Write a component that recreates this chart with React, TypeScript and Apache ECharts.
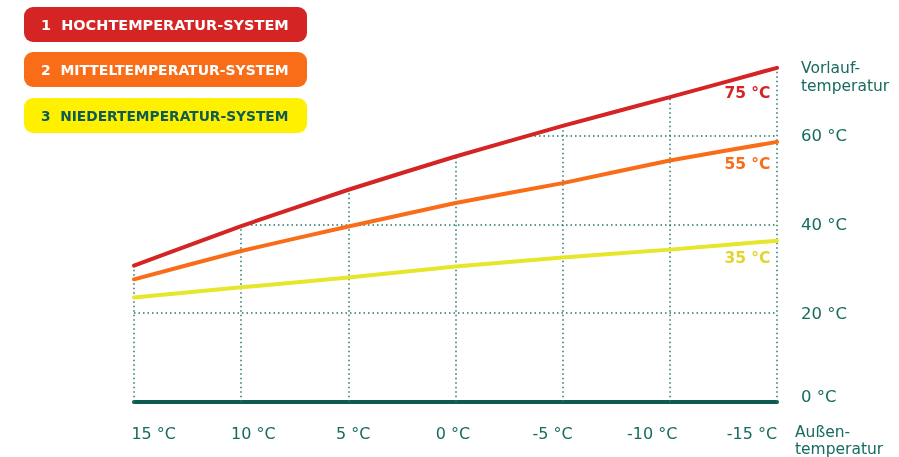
import React, { useEffect, useRef } from "react";
import * as echarts from "echarts";

const categories = ["15 °C", "10 °C", "5 °C", "0 °C", "-5 °C", "-10 °C", "-15 °C"];
const hochValues = [30.7, 39.6, 47.8, 55.3, 62.2, 68.7, 75.3];
const mittelValues = [27.6, 34.0, 39.5, 44.8, 49.3, 54.4, 58.6];
const niederValues = [23.5, 25.8, 28.0, 30.5, 32.5, 34.3, 36.3];
const seriesNames = ["1  HOCHTEMPERATUR-SYSTEM", "2  MITTELTEMPERATUR-SYSTEM", "3  NIEDERTEMPERATUR-SYSTEM"];
const endLabels = ["75 °C", "55 °C", "35 °C"];
const yAxisTitle = "Vorlauf-\ntemperatur";
const xAxisTitle = "Außen-\ntemperatur";

const RED = "#d52424";
const ORANGE = "#f96c18";
const YELLOW_LINE = "#e6e62c";
const YELLOW_BOX = "#fff000";
const YELLOW_TEXT = "#e2d42a";
const TEAL = "#176b5f";
const TEAL_DARK = "#0e5c50";
const FONT = "'DejaVu Sans', sans-serif";

function measure(text: string, font: string): number {
  const c = document.createElement("canvas");
  const ctx = c.getContext("2d");
  if (!ctx) return 1;
  ctx.font = font;
  return ctx.measureText(text).width;
}

export default function App() {
  const ref = useRef<HTMLDivElement>(null);
  useEffect(() => {
    if (!ref.current) return;
    const chart = echarts.init(ref.current, undefined, { renderer: "svg" });

    const lineColors = [RED, ORANGE, YELLOW_LINE];
    const labelColors = [RED, ORANGE, YELLOW_TEXT];
    const labelOffsets = [[-6, 26], [-6, 23], [-6, 18]];
    const allValues = [hochValues, mittelValues, niederValues];
    const dotted = { color: "#22776a", width: 1.5, type: [1.5, 3] };

    const series: any[] = allValues.map((vals, i) => ({
      name: seriesNames[i],
      type: "line",
      xAxisIndex: 0,
      yAxisIndex: 0,
      symbol: "none",
      showSymbol: true,
      smooth: 0.15,
      z: 10 - i,
      lineStyle: { color: lineColors[i], width: 4, cap: "round" },
      areaStyle: i === 0 ? { origin: "end", color: "#ffffff", opacity: 1 } : undefined,
      markLine:
        i === 0
          ? {
              silent: true,
              z: 1,
              symbol: ["none", "none"],
              label: { show: false },
              lineStyle: dotted,
              emphasis: { disabled: true },
              data: categories.map((c, j) => [
                { coord: [c, 0] },
                { coord: [c, hochValues[j]] },
              ]),
            }
          : undefined,
      data: vals.map((v, j) =>
        j === vals.length - 1
          ? {
              value: v,
              symbol: "circle",
              symbolSize: 1,
              itemStyle: { color: lineColors[i] },
              label: {
                show: true,
                formatter: endLabels[i],
                position: labelOffsets[i],
                align: "right",
                verticalAlign: "middle",
                color: labelColors[i],
                fontFamily: FONT,
                fontWeight: "bold",
                fontSize: 15.5,
              },
            }
          : v
      ),
    }));

    const boxColors = [RED, ORANGE, YELLOW_BOX];
    const boxTextColors = ["#ffffff", "#ffffff", TEAL_DARK];
    const boxTops = [7, 52, 98];
    const legendFont = `bold 13.5px ${FONT}`;
    const els: any[] = [];
    seriesNames.forEach((name, i) => {
      const w = measure(name, legendFont);
      const sx = w > 0 ? 248 / w : 1;
      els.push({
        type: "rect",
        z: 100,
        shape: { x: 24, y: boxTops[i], width: 283, height: 35, r: 9 },
        style: { fill: boxColors[i] },
      });
      els.push({
        type: "text",
        z: 101,
        x: 41,
        y: boxTops[i] + 18,
        scaleX: sx,
        style: {
          text: name,
          fill: boxTextColors[i],
          font: legendFont,
          textAlign: "left",
          textVerticalAlign: "middle",
        },
      });
    });

    els.push({
      type: "text",
      z: 100,
      x: 801,
      y: 59,
      style: { text: yAxisTitle, fill: TEAL, font: `15.5px ${FONT}`, lineHeight: 18, textAlign: "left", textVerticalAlign: "top" },
    });
    els.push({
      type: "text",
      z: 100,
      x: 795,
      y: 423,
      style: { text: xAxisTitle, fill: TEAL, font: `15.5px ${FONT}`, lineHeight: 17, textAlign: "left", textVerticalAlign: "top" },
    });

    chart.setOption({
      animation: false,
      grid: [
        { left: 134, right: 122, top: 47, bottom: 55.3, containLabel: false },
        { left: 153.7, right: 147, top: 47, bottom: 55.3, containLabel: false },
      ],
      xAxis: [
        {
          type: "category",
          gridIndex: 0,
          data: categories,
          boundaryGap: false,
          axisLine: { show: true, lineStyle: { color: TEAL_DARK, width: 4 } },
          axisTick: { show: false },
          axisLabel: { show: false },
          splitLine: { show: false },
        },
        {
          type: "category",
          gridIndex: 1,
          data: categories,
          boundaryGap: false,
          axisLine: { show: false },
          axisTick: { show: false },
          axisLabel: { color: TEAL, fontFamily: FONT, fontSize: 16, margin: 24 },
          splitLine: { show: false },
        },
      ],
      yAxis: [
        {
          type: "value",
          gridIndex: 0,
          position: "right",
          min: 0,
          max: 80,
          interval: 20,
          axisLine: { show: false },
          axisTick: { show: false },
          axisLabel: {
            color: TEAL,
            fontFamily: FONT,
            fontSize: 16.5,
            margin: 24,
            showMaxLabel: false,
            formatter: (v: number) => (v === 0 ? `{zero|${v} °C}` : `${v} °C`),
            rich: {
              zero: { color: TEAL, fontFamily: FONT, fontSize: 16.5, padding: [0, 0, 11, 0] },
            },
          },
          splitLine: { show: true, showMinLine: false, showMaxLine: false, lineStyle: dotted },
        },
        {
          type: "value",
          gridIndex: 1,
          show: false,
          min: 0,
          max: 80,
        },
      ],
      series,
      graphic: els,
    });

    return () => chart.dispose();
  }, []);

  return <div ref={ref} style={{ position: "fixed", left: 0, top: 0, width: 899, height: 457 }} />;
}
